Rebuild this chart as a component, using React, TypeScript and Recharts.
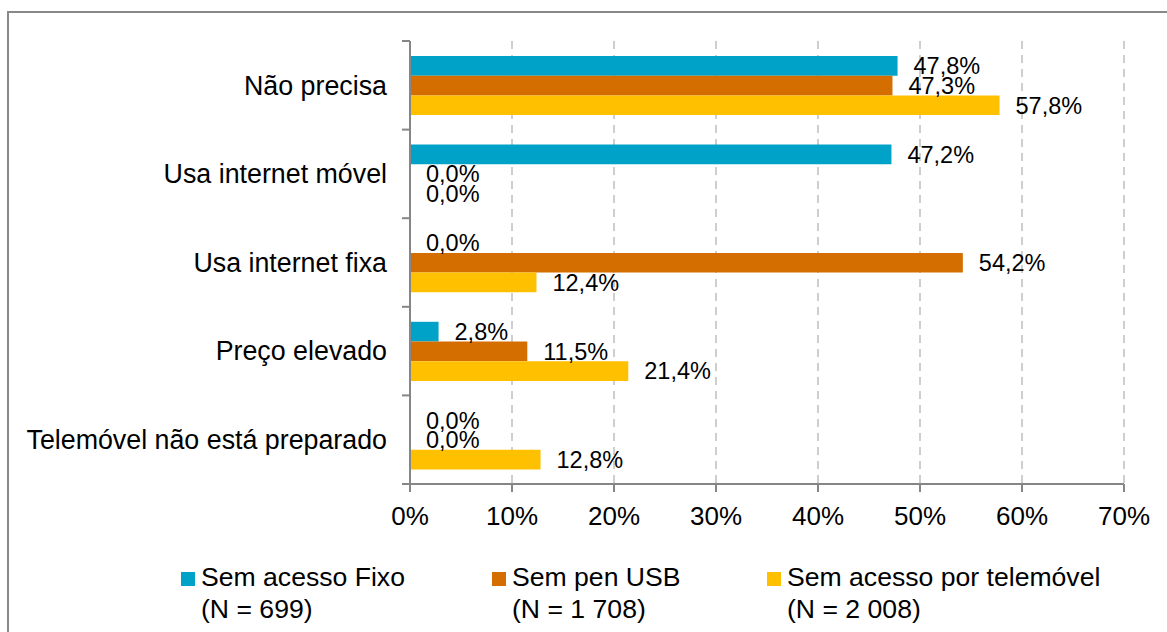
import { BarChart, Bar, XAxis, YAxis, CartesianGrid, LabelList, Legend } from "recharts";

const categories = [
  "Não precisa",
  "Usa internet móvel",
  "Usa internet fixa",
  "Preço elevado",
  "Telemóvel não está preparado",
];
const semAcessoFixo = [47.8, 47.2, 0, 2.8, 0];
const semPenUsb = [47.3, 0, 54.2, 11.5, 0];
const semAcessoTelemovel = [57.8, 0, 12.4, 21.4, 12.8];

const seriesKeys = ["fixo", "pen", "tel"];
const seriesNames = ["Sem acesso Fixo", "Sem pen USB", "Sem acesso por telemóvel"];
const seriesN = ["(N = 699)", "(N = 1 708)", "(N = 2 008)"];
const xTicks = [0, 10, 20, 30, 40, 50, 60, 70];

const data = categories.map((cat, i) => ({
  cat,
  fixo: semAcessoFixo[i],
  pen: semPenUsb[i],
  tel: semAcessoTelemovel[i],
}));

const colors = ["#00A2C8", "#D46E00", "#FFC000"];
const FONT = '"Liberation Sans", Arial, sans-serif';
const AXIS = "#868686";
const TICK_SIZE = 8;
const TICK_MARGIN = 15;

// legend item left edges (Excel spaces them by text width)
const legendX = [181, 492, 767];

const fmtPct = (v: any) => `${Number(v).toFixed(1).replace(".", ",")}%`;

// category labels at band centre, tick marks at band boundaries
function CatTick(props: any) {
  const { x, y, payload, index, visibleTicksCount } = props;
  const half = payload?.offset ?? 0;
  const x1 = x + TICK_MARGIN;
  const x2 = x + TICK_MARGIN + TICK_SIZE;
  const last = (visibleTicksCount ?? categories.length) - 1;
  return (
    <g>
      <line x1={x1} x2={x2} y1={y - half} y2={y - half} stroke={AXIS} strokeWidth={2} />
      {index === last ? (
        <line x1={x1} x2={x2} y1={y + half} y2={y + half} stroke={AXIS} strokeWidth={2} />
      ) : null}
      <text x={x} y={y} dy="0.35em" textAnchor="end" fontSize={26.8} fill="#000" fontFamily={FONT}>
        {payload.value}
      </text>
    </g>
  );
}

function LegendBox({ payload }: any) {
  return (
    <div style={{ position: "relative", width: 1167, height: 72, fontFamily: FONT, fontSize: 26.6, lineHeight: "31.6px", color: "#000" }}>
      {seriesKeys.map((key, i) => {
        const p = (payload || []).find((e: any) => e.dataKey === key);
        return (
          <div key={key}>
            <div style={{ position: "absolute", left: legendX[i], top: 12, width: 14, height: 14, background: p?.color ?? colors[i] }} />
            <div style={{ position: "absolute", left: legendX[i] + 20, top: 2, whiteSpace: "nowrap" }}>
              {seriesNames[i]}
              <br />
              {seriesN[i]}
            </div>
          </div>
        );
      })}
    </div>
  );
}

export default function App() {
  return (
    <div style={{ position: "absolute", left: 0, top: 0, width: 1167, height: 632, overflow: "hidden", background: "#fff", fontFamily: FONT }}>
      <div
        style={{
          position: "absolute",
          left: 7,
          top: 11,
          width: 1300,
          height: 800,
          borderLeft: "2px solid #898989",
          borderTop: "2px solid #898989",
        }}
      />
      <BarChart
        layout="vertical"
        width={1167}
        height={632}
        data={data}
        margin={{ top: 41, right: 43, left: 0, bottom: 36 }}
        barGap={0}
        barSize={19.7}
        style={{ position: "absolute", left: 0, top: 0 }}
      >
        <CartesianGrid horizontal={false} stroke="#BEBEBE" strokeWidth={1.5} strokeDasharray="8 6" />
        <XAxis
          type="number"
          domain={[0, 70]}
          ticks={xTicks}
          tickFormatter={(v) => `${v}%`}
          height={40}
          tickSize={TICK_SIZE}
          tickMargin={15}
          axisLine={{ stroke: AXIS, strokeWidth: 2 }}
          tickLine={{ stroke: AXIS, strokeWidth: 2 }}
          tick={{ fontSize: 26, fill: "#000", fontFamily: FONT }}
          interval={0}
        />
        <YAxis
          type="category"
          dataKey="cat"
          width={410}
          tickSize={TICK_SIZE}
          tickMargin={TICK_MARGIN}
          tickLine={false}
          axisLine={{ stroke: AXIS, strokeWidth: 2 }}
          tick={<CatTick />}
          interval={0}
        />
        <Legend
          layout="vertical"
          verticalAlign="bottom"
          align="center"
          content={<LegendBox />}
          wrapperStyle={{ left: 0, top: 560, width: 1167, height: 72 }}
        />
        {seriesKeys.map((key, i) => (
          <Bar key={key} dataKey={key} name={seriesNames[i]} fill={colors[i]} minPointSize={0.01} isAnimationActive={false}>
            <LabelList
              dataKey={key}
              position="right"
              offset={16}
              formatter={fmtPct}
              style={{ fontSize: 23.5, fill: "#000", fontFamily: FONT }}
            />
          </Bar>
        ))}
      </BarChart>
    </div>
  );
}
